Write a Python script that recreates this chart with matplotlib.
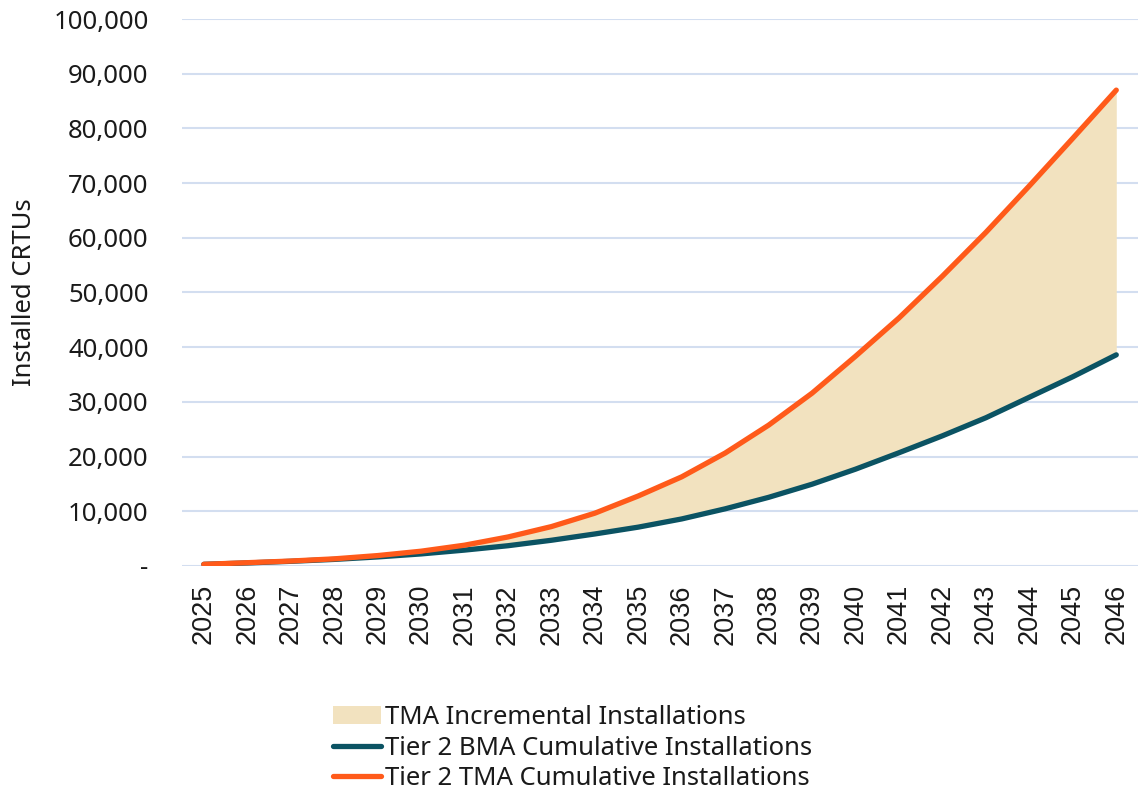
import numpy as np
import matplotlib
matplotlib.use('Agg')
import matplotlib.pyplot as plt
from matplotlib.ticker import FuncFormatter
from matplotlib.patches import Patch
from matplotlib.lines import Line2D

plt.rcParams['font.family'] = ['Noto Sans', 'DejaVu Sans']

years = list(range(2025, 2047))
bma_cumulative = [300, 550, 850, 1200, 1650, 2200, 2900, 3700, 4700, 5850,
                  7100, 8600, 10450, 12550, 14950, 17700, 20700, 23800,
                  27100, 30850, 34600, 38600]
tma_cumulative = [300, 600, 900, 1300, 1900, 2700, 3800, 5300, 7200, 9650,
                  12800, 16300, 20650, 25750, 31600, 38350, 45350, 53000,
                  61000, 69500, 78200, 87000]

fill_color = '#F2E2BF'
teal = '#0B5363'
orange = '#FF5A1A'
grid_color = '#D3DEF0'
text_color = '#1A1A1A'

fig = plt.figure(figsize=(11.38, 7.92), dpi=100)
ax = fig.add_axes([0.16, 0.2854, 0.84, 0.6906])

x = np.arange(len(years))
ax.fill_between(x, bma_cumulative, tma_cumulative, color=fill_color, lw=0, zorder=2)
ax.plot(x, bma_cumulative, color=teal, lw=3.8, solid_capstyle='round', zorder=3)
ax.plot(x, tma_cumulative, color=orange, lw=3.8, solid_capstyle='round', zorder=4)

ax.set_xlim(-0.5, len(years) - 0.5)
ax.set_ylim(0, 100000)
ax.set_yticks(range(0, 100001, 10000))
ax.yaxis.set_major_formatter(FuncFormatter(lambda v, p: '-' if v == 0 else f'{int(v):,}'))
ax.grid(axis='y', color=grid_color, lw=1.5, zorder=1)
ax.set_axisbelow(True)
for s in ax.spines.values():
    s.set_visible(False)

ax.set_xticks(x)
ax.set_xticklabels([str(y) for y in years], rotation=90, fontsize=19.5,
                   family=['Liberation Sans', 'DejaVu Sans'], color=text_color)
ax.tick_params(axis='x', length=0, pad=13)
ax.tick_params(axis='y', length=0, pad=24, labelsize=18.5, labelcolor=text_color)
ax.set_ylabel('Installed CRTUs', fontsize=18.5, color=text_color, labelpad=12)

handles = [Patch(facecolor=fill_color, edgecolor='none'),
           Line2D([0], [0], color=teal, lw=3.8, solid_capstyle='round'),
           Line2D([0], [0], color=orange, lw=3.8, solid_capstyle='round')]
labels = ['TMA Incremental Installations',
          'Tier 2 BMA Cumulative Installations',
          'Tier 2 TMA Cumulative Installations']
fig.legend(handles, labels, loc='center', bbox_to_anchor=(0.503, 0.0555),
           frameon=False, fontsize=18.5, handlelength=1.9, handletextpad=0.15,
           labelspacing=0.2, labelcolor=text_color)

fig.savefig('out.png', dpi=100)
